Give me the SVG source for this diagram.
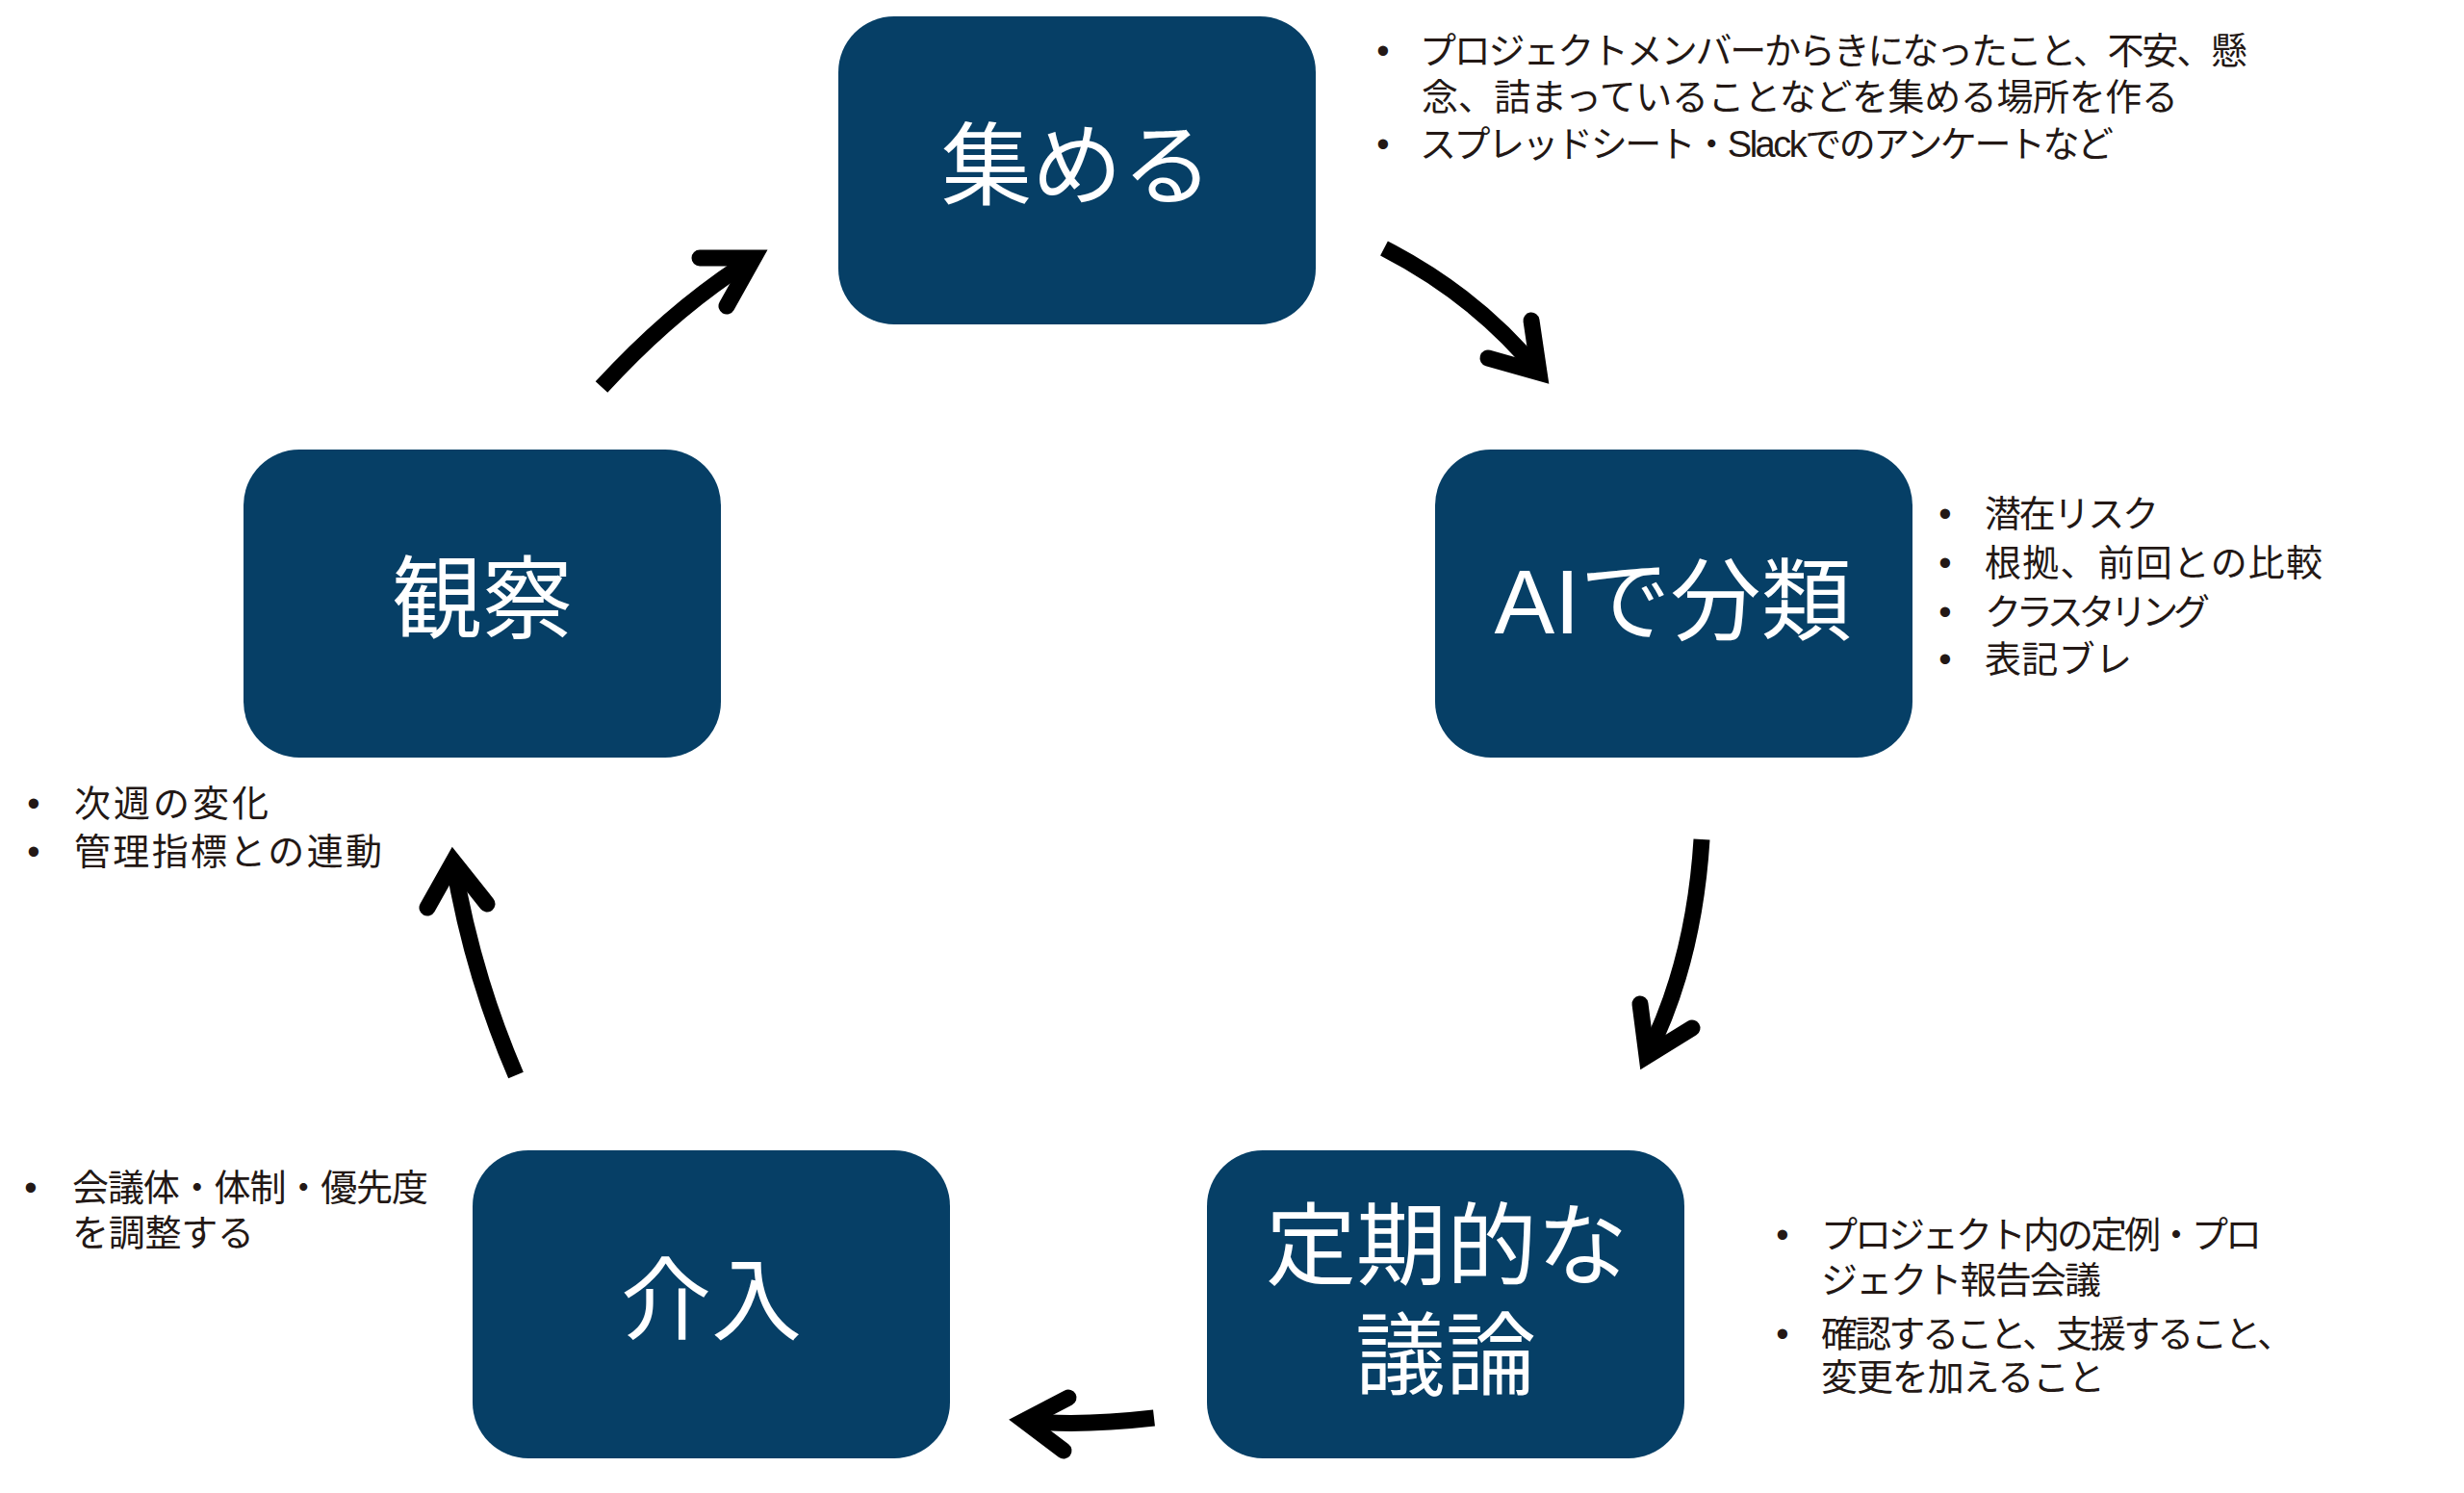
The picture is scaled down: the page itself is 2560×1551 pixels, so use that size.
<svg xmlns="http://www.w3.org/2000/svg" width="2560" height="1551" viewBox="0 0 2560 1551">
<style>
.box{fill:#063f66}
.lbl{font-family:"Liberation Sans","Noto Sans CJK JP",sans-serif;font-size:94px;fill:#ffffff;text-anchor:middle;dominant-baseline:central}
.txt{font-family:"Liberation Sans","Noto Sans CJK JP",sans-serif;font-size:38px;fill:#231815;dominant-baseline:central}
.bul{font-family:"Liberation Sans",sans-serif;font-size:38px;fill:#231815;text-anchor:middle;dominant-baseline:central}
.shaft{fill:none;stroke:#000000;stroke-width:17;stroke-linecap:butt}
.head{fill:none;stroke:#000000;stroke-width:17;stroke-linecap:round;stroke-linejoin:miter;stroke-miterlimit:6}
</style>
<rect width="2560" height="1551" fill="#ffffff"/>

<g id="connectors">
  <path class="shaft" d="M625,402 Q700,320 783,268"/>
  <polyline class="head" points="727,268 783,268 755,318"/>
  <path class="shaft" d="M1438,258 Q1535,308 1599,387"/>
  <polyline class="head" points="1591,333 1599,387 1546,372"/>
  <path class="shaft" d="M1768,872 Q1760,1000 1711,1097"/>
  <polyline class="head" points="1704,1043 1711,1097 1758,1068"/>
  <path class="shaft" d="M1199,1473 Q1120,1482 1064,1476"/>
  <polyline class="head" points="1110,1452 1064,1476 1105,1507"/>
  <path class="shaft" d="M536,1117 Q490,1010 471,895"/>
  <polyline class="head" points="444,943 471,895 506,939"/>
</g>

<g id="node-collect">
  <rect class="box" x="871" y="17" width="496" height="320" rx="58" ry="58"/>
  <text class="lbl" x="1119" y="173">集める</text>
</g>
<g id="notes-collect">
  <text class="bul" x="1437" y="53">•</text>
  <text class="bul" x="1437" y="150">•</text>
  <text class="txt"><tspan x="1475" y="53" textLength="860" lengthAdjust="spacing">プロジェクトメンバーからきになったこと、不安、懸</tspan><tspan x="1477" y="101" textLength="786" lengthAdjust="spacing">念、詰まっていることなどを集める場所を作る</tspan><tspan x="1475" y="150" textLength="721" lengthAdjust="spacing">スプレッドシート・Slackでのアンケートなど</tspan></text>
</g>

<g id="node-classify">
  <rect class="box" x="1491" y="467" width="496" height="320" rx="58" ry="58"/>
  <text class="lbl" x="1738" y="625">AIで分類</text>
</g>
<g id="notes-classify">
  <text class="bul" x="2021" y="534">•</text>
  <text class="bul" x="2021" y="585">•</text>
  <text class="bul" x="2021" y="636">•</text>
  <text class="bul" x="2021" y="685">•</text>
  <text class="txt"><tspan x="2062" y="534" textLength="181" lengthAdjust="spacing">潜在リスク</tspan><tspan x="2062" y="585" textLength="351" lengthAdjust="spacing">根拠、前回との比較</tspan><tspan x="2062" y="636" textLength="234" lengthAdjust="spacing">クラスタリング</tspan><tspan x="2062" y="685" textLength="153" lengthAdjust="spacing">表記ブレ</tspan></text>
</g>

<g id="node-discuss">
  <rect class="box" x="1254" y="1195" width="496" height="320" rx="58" ry="58"/>
  <text class="lbl"><tspan x="1503" y="1295">定期的な</tspan><tspan x="1502" y="1409">議論</tspan></text>
</g>
<g id="notes-discuss">
  <text class="bul" x="1852" y="1283">•</text>
  <text class="bul" x="1852" y="1386">•</text>
  <text class="txt"><tspan x="1892" y="1283" textLength="458" lengthAdjust="spacing">プロジェクト内の定例・プロ</tspan><tspan x="1892" y="1330" textLength="291" lengthAdjust="spacing">ジェクト報告会議</tspan><tspan x="1892" y="1386" textLength="491" lengthAdjust="spacing">確認すること、支援すること、</tspan><tspan x="1892" y="1431" textLength="295" lengthAdjust="spacing">変更を加えること</tspan></text>
</g>

<g id="node-intervene">
  <rect class="box" x="491" y="1195" width="496" height="320" rx="58" ry="58"/>
  <text class="lbl" x="739" y="1352">介入</text>
</g>
<g id="notes-intervene">
  <text class="bul" x="32" y="1234">•</text>
  <text class="txt"><tspan x="75" y="1234" textLength="370" lengthAdjust="spacing">会議体・体制・優先度</tspan><tspan x="75" y="1281" textLength="189" lengthAdjust="spacing">を調整する</tspan></text>
</g>

<g id="node-observe">
  <rect class="box" x="253" y="467" width="496" height="320" rx="58" ry="58"/>
  <text class="lbl" x="501" y="623">観察</text>
</g>
<g id="notes-observe">
  <text class="bul" x="35" y="835">•</text>
  <text class="bul" x="35" y="885">•</text>
  <text class="txt"><tspan x="77" y="835" textLength="202" lengthAdjust="spacing">次週の変化</tspan><tspan x="77" y="885" textLength="320" lengthAdjust="spacing">管理指標との連動</tspan></text>
</g>
</svg>
